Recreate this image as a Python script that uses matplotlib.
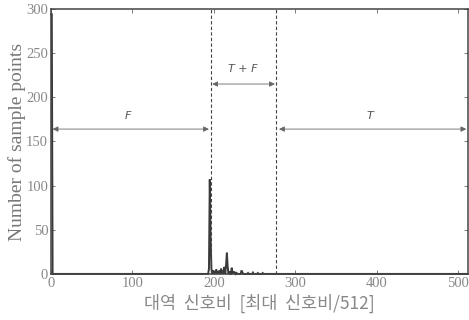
import numpy as np
import matplotlib
matplotlib.use("Agg")
import matplotlib.pyplot as plt

# histogram data (non-zero bins)
bins = [0, 1, 194, 195, 196, 197, 199, 201, 203, 205, 207, 209, 211, 213, 215, 216, 217, 219, 222, 224, 226, 228, 234, 235, 242, 248, 254, 260]
counts = [294, 294, 6, 107, 40, 6, 4, 3, 5, 3, 4, 6, 4, 8, 10, 24, 8, 3, 7, 3, 2, 1, 4, 2, 1, 1.5, 1, 1]

boundaries = [196, 276]
xticks = [0, 100, 200, 300, 400, 500]
yticks = [0, 50, 100, 150, 200, 250, 300]
region_labels = ["F", "T + F", "T"]
xlabel = "대역  신호비  [최대  신호비/512]"
ylabel = "Number of sample points"

full = np.zeros(512)
for b, c in zip(bins, counts):
    full[b] = c

fig = plt.figure(figsize=(4.69, 3.2), dpi=100)
ax = fig.add_axes([0.1087, 0.144, 0.889, 0.828])

ax.plot(np.arange(512), full, color="#3a3a3a", lw=1.4, solid_joinstyle="miter", clip_on=False)
ax.set_xlim(0, 512)
ax.set_ylim(0, 300)

for b in boundaries:
    ax.plot([b, b], [0, 300], color="#444444", lw=0.8, ls=(0, (3, 2)))

arrow_kw = dict(arrowstyle="<|-|>", color="#666666", lw=0.6, mutation_scale=8, shrinkA=0, shrinkB=0)
ax.annotate("", xy=(2, 164), xytext=(boundaries[0] - 2, 164), arrowprops=arrow_kw)
ax.annotate("", xy=(boundaries[0] + 2, 215), xytext=(boundaries[1] - 1, 215), arrowprops=arrow_kw)
ax.annotate("", xy=(boundaries[1] + 4, 164), xytext=(510, 164), arrowprops=arrow_kw)

tkw = dict(color="#555555", fontsize=8, style="italic", ha="center", va="center", family="DejaVu Sans")
ax.text(95, 179, region_labels[0], **tkw)
ax.text(236, 232, region_labels[1], **tkw)
ax.text(392, 179, region_labels[2], **tkw)

ax.set_xticks(xticks)
ax.set_yticks(yticks)
ax.tick_params(direction="in", top=True, right=True, length=3, width=0.6, color="#666666",
               labelsize=10.5, labelcolor="#888888", pad=2)
for lab in ax.get_xticklabels() + ax.get_yticklabels():
    lab.set_family("Liberation Serif")

for s in ax.spines.values():
    s.set_color("#444444")
    s.set_linewidth(1.1)

ax.set_ylabel(ylabel, family="Liberation Serif", fontsize=14, color="#777777", labelpad=0)
ax.set_xlabel(xlabel, family=["Noto Sans CJK KR", "DejaVu Sans"], fontsize=12.5, color="#888888",
              labelpad=3, fontweight="light")

fig.savefig("out.png", dpi=100)
